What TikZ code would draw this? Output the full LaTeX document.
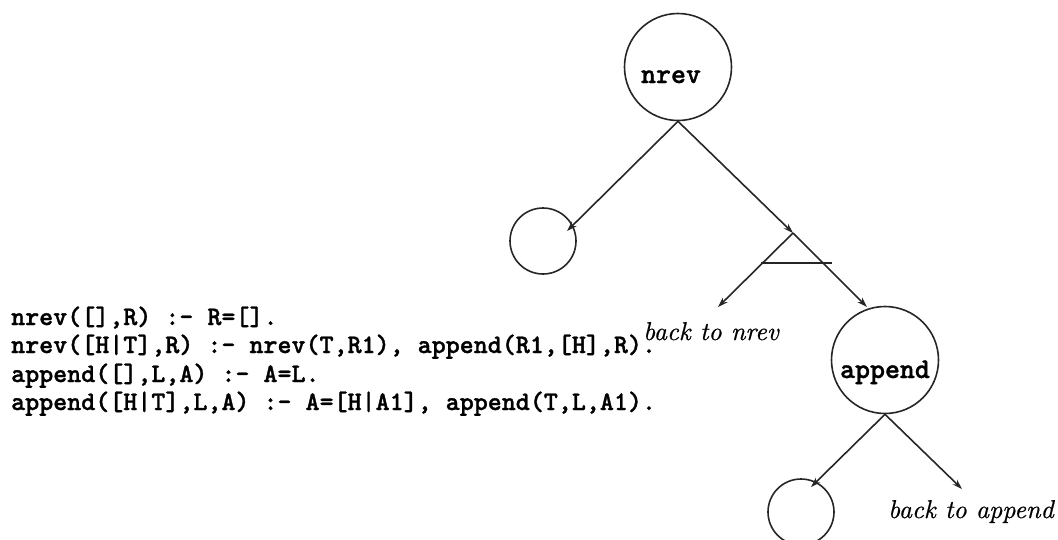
\documentclass[tikz,border=0pt]{standalone}
\usepackage{fontspec}
\usetikzlibrary{arrows.meta}

% heavy typewriter face for predicate names and program text
\newfontfamily\codefont{lmmonolt10-bold.otf}[FakeBold=1.2]
% slightly dark italic for the return labels
\newfontfamily\notefont{lmroman10-italic.otf}[FakeBold=0.6]

\tikzset{
  edge/.style={draw=black!85, line width=1.6pt},
  call/.style={edge, -{Stealth[length=10pt,width=6.5pt]}},
  goal/.style={circle, draw=black!85, line width=1.6pt, inner sep=0pt},
  biggoal/.style={goal, minimum size=107pt},
  leaf/.style={goal, minimum size=66pt},
  predname/.style={anchor=base, inner sep=0pt,
    font=\fontsize{28.5}{30}\selectfont\codefont},
  clause/.style={anchor=base west, inner sep=0pt,
    font=\fontsize{26.7}{28.3}\selectfont\codefont},
  note/.style={anchor=base west, inner sep=0pt,
    font=\fontsize{25.8}{28}\selectfont\notefont},
}

\begin{document}
\begin{tikzpicture}[x=1pt, y=-1pt]
  \useasboundingbox (0,0) rectangle (1058,539);

  % goal nodes of the call tree
  \node[biggoal] (nrev)   at (678,67)  {};
  \node[predname] (nrevlbl) at (671,83) {nrev};
  \node[leaf]    (nil1)   at (543,241) {};
  \node[biggoal] (append) at (885,360) {};
  \node[predname] (applbl) at (885,378) {append};
  \node[leaf]    (nil2)   at (801,512) {};

  % branch points and arrow ends
  \coordinate (fork)    at (793,233);
  \coordinate (nil1tip) at (567,231);
  \coordinate (apptip)  at (867,307);
  \coordinate (backtip) at (718,307);
  \coordinate (barl)    at (761,263);
  \coordinate (barr)    at (832,263);
  \coordinate (nil2tip) at (811,487);
  \coordinate (againtip) at (962,489);

  % calls
  \draw[call] (nrev.south) -- (nil1tip);
  \draw[call] (nrev.south) -- (fork);
  \draw[call] (fork) -- (apptip);
  \draw[call] (fork) -- (backtip);
  \draw[edge] (barl) -- (barr);
  \draw[call] (append.south) -- (nil2tip);
  \draw[call] (append.south) -- (againtip);

  % program text
  \node[clause] (c1) at (11,325) {nrev([],R) :- R=[].};
  \node[clause] (c2) at (11,353) {nrev([H|T],R) :- nrev(T,R1), append(R1,[H],R).};
  \node[clause] (c3) at (11,382) {append([],L,A) :- A=L.};
  \node[clause] (c4) at (11,410) {append([H|T],L,A) :- A=[H|A1], append(T,L,A1).};

  % return labels
  \node[note] (backnrev) at (643,340) {back to nrev};
  \node[note] (backapp)  at (888,518) {back to append};
\end{tikzpicture}
\end{document}
